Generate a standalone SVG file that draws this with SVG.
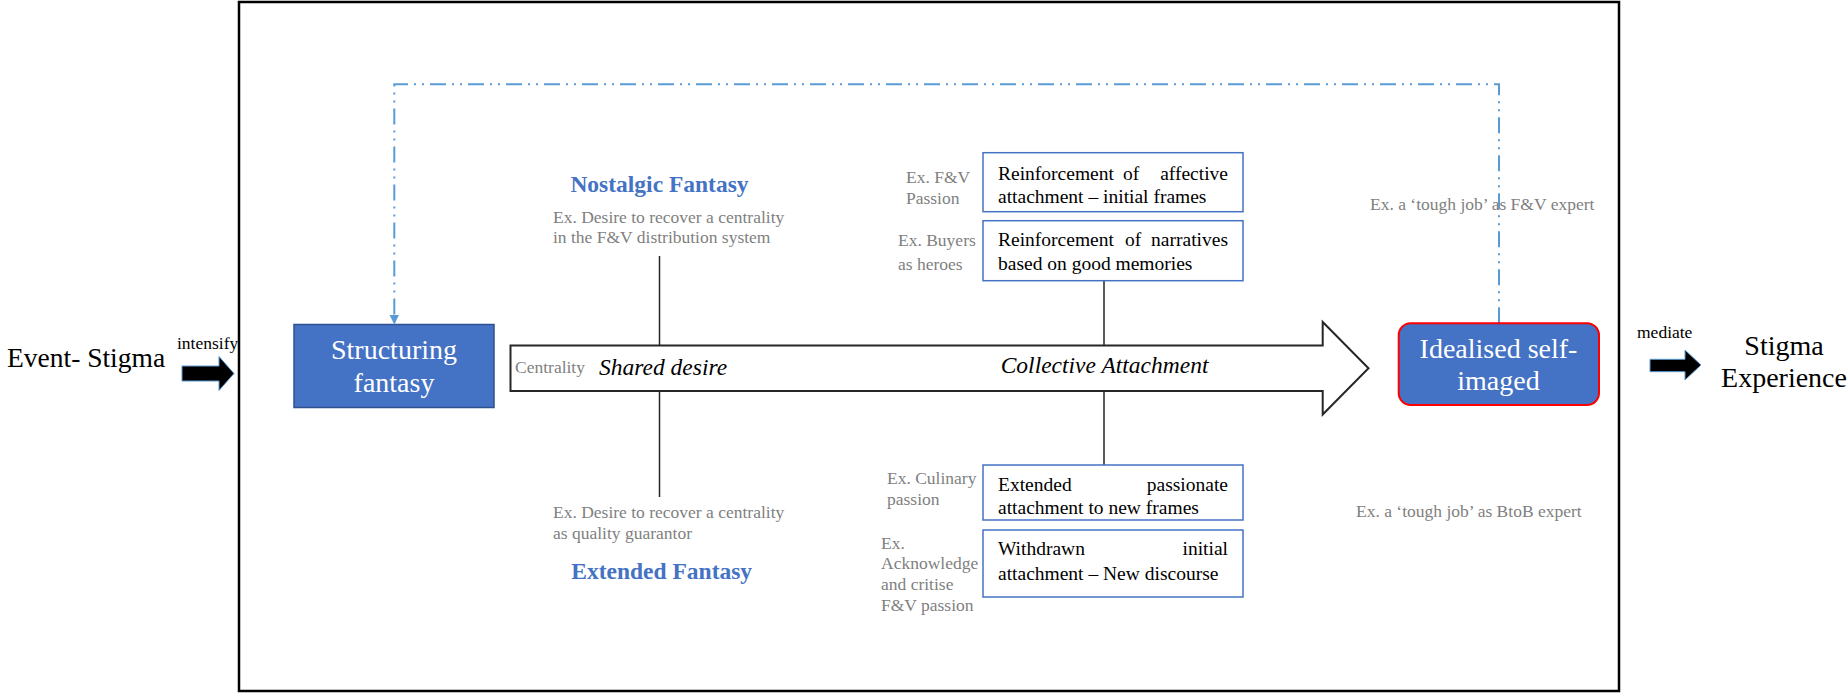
<svg xmlns="http://www.w3.org/2000/svg" width="1847" height="693" viewBox="0 0 1847 693">
<style>
text{font-family:"Liberation Serif","Times New Roman",serif;}
.big{font-size:27.5px;fill:#000;}
.small{font-size:17.5px;fill:#000;}
.gray{font-size:17.5px;fill:#7f7f7f;}
.box{font-size:19.5px;fill:#000;}
.white{font-size:28px;fill:#fff;text-anchor:middle;}
.title{font-size:23.5px;font-weight:bold;fill:#4472c4;text-anchor:middle;}
.ital{font-size:23.5px;font-style:italic;fill:#000;}
.tbox{fill:#fff;stroke:#4472c4;stroke-width:1.5;}
.vline{stroke:#262626;stroke-width:1.5;fill:none;}
.blk{fill:#000;stroke:#5b9bd5;stroke-width:1;}
</style>
<defs>
<marker id="ah" markerUnits="userSpaceOnUse" markerWidth="11" markerHeight="11" refX="10" refY="5" orient="auto">
<path d="M0,0 L10,5 L0,10 z" fill="#5b9bd5"/>
</marker>
</defs>
<rect x="0" y="0" width="1847" height="693" fill="#fff"/>
<rect id="frame" x="239" y="2" width="1380" height="689" fill="none" stroke="#000" stroke-width="2.5"/>

<g id="event-stigma">
<text class="big" x="7" y="367">Event- Stigma</text>
</g>
<g id="intensify">
<text class="small" x="177" y="349">intensify</text>
<polygon class="blk" points="182,366 219,366 219,356.5 234,373.5 219,390.5 219,381 182,381"/>
</g>

<g id="structuring">
<rect x="294" y="324.5" width="200" height="83" fill="#4472c4" stroke="#2f528f" stroke-width="1.5"/>
<text class="white" x="394" y="359.3">Structuring</text>
<text class="white" x="394" y="391.7">fantasy</text>
</g>

<g id="big-arrow">
<polygon points="510.5,345.5 1322.7,345.5 1322.7,322 1368.5,368.3 1322.7,414.5 1322.7,391 510.5,391" fill="#fff" stroke="#262626" stroke-width="2"/>
<text class="gray" x="515" y="372.7">Centrality</text>
<text class="ital" x="599" y="375">Shared desire</text>
<text class="ital" x="1000.7" y="373.3">Collective Attachment</text>
</g>

<g id="connectors">
<line class="vline" x1="659.5" y1="256" x2="659.5" y2="345.5"/>
<line class="vline" x1="659.5" y1="391" x2="659.5" y2="497"/>
<line class="vline" x1="1104" y1="280.7" x2="1104" y2="345.5"/>
<line class="vline" x1="1104" y1="391" x2="1104" y2="465"/>
<path d="M1499,323.3 V84.3 H394.3 V324.5" fill="none" stroke="#5b9bd5" stroke-width="2" stroke-dasharray="16 6 2 6 2 6" marker-end="url(#ah)"/>
</g>

<g id="nostalgic">
<text class="title" x="659.5" y="192">Nostalgic Fantasy</text>
<text class="gray" x="553" y="222.7">Ex. Desire to recover a centrality</text>
<text class="gray" x="553" y="242.7">in the F&amp;V distribution system</text>
</g>

<g id="extended">
<text class="gray" x="553" y="517.7">Ex. Desire to recover a centrality</text>
<text class="gray" x="553" y="539">as quality guarantor</text>
<text class="title" x="661.7" y="579">Extended Fantasy</text>
</g>

<g id="box1">
<rect class="tbox" x="983" y="152.7" width="260" height="59"/>
<text class="box" y="180"><tspan x="998">Reinforcement</tspan><tspan x="1123">of</tspan><tspan x="1228" text-anchor="end">affective</tspan></text>
<text class="box" x="998" y="203">attachment – initial frames</text>
<text class="gray" x="906" y="183">Ex. F&amp;V</text>
<text class="gray" x="906" y="204">Passion</text>
</g>

<g id="box2">
<rect class="tbox" x="983" y="220.7" width="260" height="60"/>
<text class="box" y="246"><tspan x="998">Reinforcement</tspan><tspan x="1125">of</tspan><tspan x="1228" text-anchor="end">narratives</tspan></text>
<text class="box" x="998" y="269.5">based on good memories</text>
<text class="gray" x="898" y="246">Ex. Buyers</text>
<text class="gray" x="898" y="270">as heroes</text>
</g>

<g id="box3">
<rect class="tbox" x="983" y="465" width="260" height="55"/>
<text class="box" y="491"><tspan x="998">Extended</tspan><tspan x="1228" text-anchor="end">passionate</tspan></text>
<text class="box" x="998" y="514">attachment to new frames</text>
<text class="gray" x="887" y="484">Ex. Culinary</text>
<text class="gray" x="887" y="505">passion</text>
</g>

<g id="box4">
<rect class="tbox" x="983" y="530" width="260" height="67"/>
<text class="box" y="555"><tspan x="998">Withdrawn</tspan><tspan x="1228" text-anchor="end">initial</tspan></text>
<text class="box" x="998" y="580">attachment – New discourse</text>
<text class="gray" x="881" y="549">Ex.</text>
<text class="gray" x="881" y="569">Acknowledge</text>
<text class="gray" x="881" y="590">and critise</text>
<text class="gray" x="881" y="611">F&amp;V passion</text>
</g>

<g id="idealised">
<rect x="1398.7" y="323.3" width="200.3" height="81.7" rx="12" fill="#4472c4" stroke="#ff0000" stroke-width="2"/>
<text class="white" x="1498.5" y="358.3">Idealised self-</text>
<text class="white" x="1498.5" y="390">imaged</text>
</g>

<g id="examples-right">
<text class="gray" x="1370" y="210">Ex. a ‘tough job’ as F&amp;V expert</text>
<text class="gray" x="1356" y="517">Ex. a ‘tough job’ as BtoB expert</text>
</g>

<g id="mediate">
<text class="small" x="1637" y="338.3">mediate</text>
<polygon class="blk" points="1650,359.3 1685,359.3 1685,350 1701,365 1685,380 1685,371.7 1650,371.7"/>
</g>

<g id="stigma-experience">
<text class="big" x="1784" y="355" text-anchor="middle" style="font-size:28px">Stigma</text>
<text class="big" x="1784" y="387.3" text-anchor="middle" style="font-size:28px">Experience</text>
</g>
</svg>
